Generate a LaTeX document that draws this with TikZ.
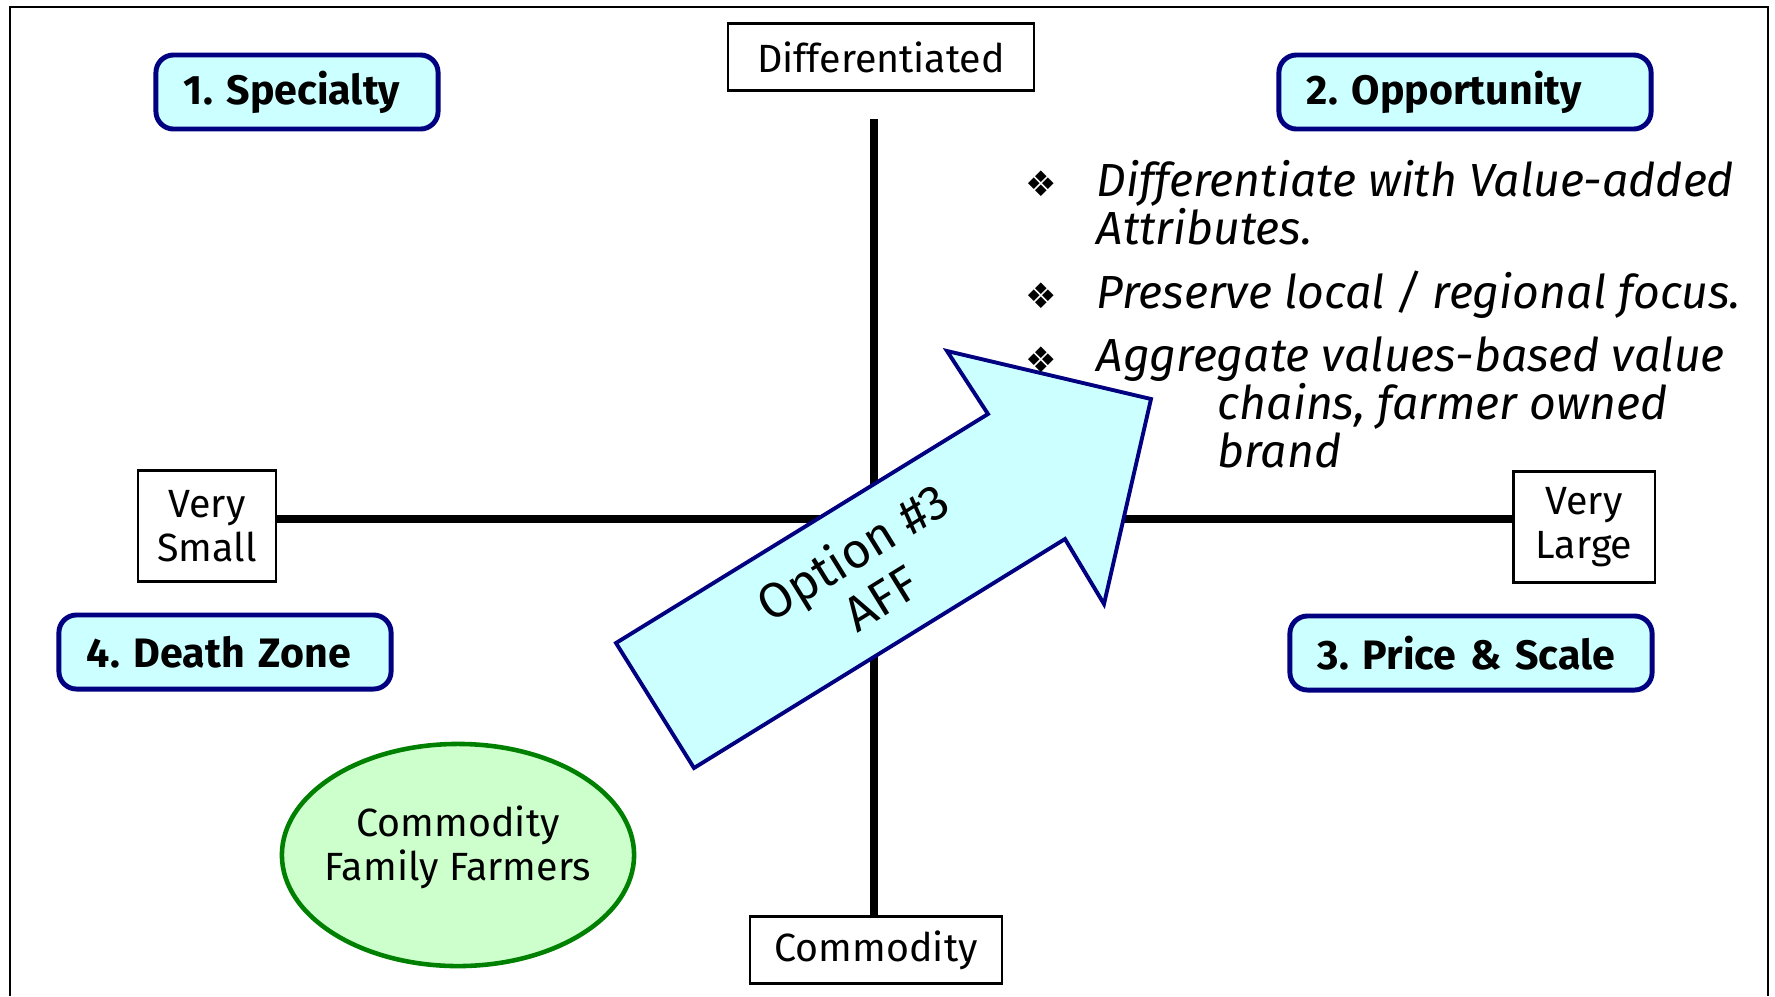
\documentclass[tikz,border=0pt]{standalone}
\usepackage{fontspec}
\setmainfont{Fira Sans}
\newfontfamily\dingfont{DejaVu Sans}
\usetikzlibrary{positioning,shapes.geometric}
\frenchspacing

\definecolor{navy}{HTML}{000080}
\definecolor{paleblue}{HTML}{CCFFFF}
\definecolor{leafgreen}{HTML}{008000}
\definecolor{palegreen}{HTML}{CCFFCC}

\begin{document}
\begin{tikzpicture}
  [x=0.01cm, y=-0.01cm,
  axis/.style={line width=2pt},
  pole/.style={rectangle, draw=black, fill=white, line width=0.6pt,
    inner sep=0pt, align=center, font=\fontsize{11.2}{12.6}\selectfont},
  quadrant/.style={rectangle, rounded corners=5pt, draw=navy, fill=paleblue,
    line width=1.4pt, inner xsep=0.28cm, inner ysep=0pt, minimum height=0.74cm,
    align=left, font=\bfseries\fontsize{11.7}{13}\selectfont},
  farmers/.style={ellipse, draw=leafgreen, fill=palegreen, line width=1.3pt,
    inner sep=0pt, minimum width=3.52cm, minimum height=2.22cm},
  aff/.style={draw=navy, fill=paleblue, line width=1.1pt, line join=miter},
  bullet/.style={anchor=base west, inner sep=0pt, font=\dingfont\fontsize{10}{12}\selectfont},
  note/.style={anchor=base west, inner sep=0pt, align=left,
    font=\itshape\fontsize{13.2}{13.6}\selectfont}]

  \useasboundingbox (0,0) rectangle (1775,996);
  \draw[line width=0.7pt] (10,996) -- (10,7) -- (1768,7) -- (1768,996);

  % poles of the two axes
  \node[pole, minimum width=3.05cm, minimum height=0.67cm] (differentiated) at (881,57) {Differentiated};
  \node[pole, minimum width=2.52cm, minimum height=0.67cm] (commodity) at (876,950) {Commodity};
  \node[pole, minimum width=1.38cm, minimum height=1.11cm] (verysmall) at (207,526) {Very\\Small};
  \node[pole, minimum width=1.41cm, minimum height=1.11cm] (verylarge) at (1584,527) {Very\\Large};

  \coordinate (axistop) at (874,119);
  \coordinate (axismid) at (874,519);
  \draw[axis] (axistop) -- (axistop |- commodity.north);
  \draw[axis] (verysmall.east |- axismid) -- (verylarge.west |- axismid);

  % the four quadrants
  \node[quadrant, text width=2.26cm] (specialty) at (297,92) {1. Specialty};
  \node[quadrant, text width=3.16cm] (opportunity) at (1465,92) {2. Opportunity};
  \node[quadrant, text width=3.06cm] (pricescale) at (1471,653) {3. Price \& Scale};
  \node[quadrant, text width=2.76cm] (deathzone) at (225,652) {4. Death Zone};

  \node[farmers] (family) at (458,855) {};
  \node[pole, draw=none, fill=none] (familytext) at (458,847) {Commodity\\Family Farmers};

  % big arrow
  \draw[aff] (616,643) -- (988,414) -- (947,351) -- (1151,399)
    -- (1104,604) -- (1065,539) -- (694,768) -- cycle;
  \node[rotate=31.7, align=center, font=\fontsize{14}{15.4}\selectfont] (option) at (866,574) {Option \#3\\AFF};

  % notes for the opportunity quadrant
  \node[bullet] (dot1) at (1025,196) {❖};
  \node[note] (note1) at (1096,244) {Differentiate with Value-added\\Attributes.};
  \node[bullet] (dot2) at (1025,308) {❖};
  \node[note] (note2) at (1096,308) {Preserve local / regional focus.};
  \node[bullet] (dot3) at (1025,372) {❖};
  \node[note] (note3) at (1096,467) {Aggregate values-based value\\\hspace*{1.21cm}chains, farmer owned\\\hspace*{1.21cm}brand};

\end{tikzpicture}
\end{document}
